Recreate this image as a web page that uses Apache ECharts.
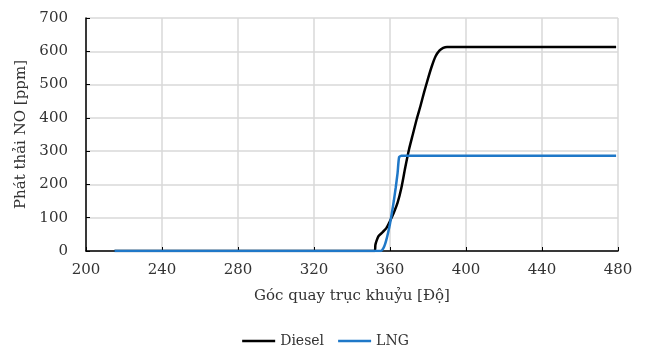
<!DOCTYPE html>
<html><head><meta charset="utf-8">
<script src="https://cdn.jsdelivr.net/npm/echarts@6/dist/echarts.min.js"></script>
<style>html,body{margin:0;padding:0;background:#fff}#c{width:651px;height:350px}</style>
</head><body><div id="c"></div>
<script>
const xTicks = [200, 240, 280, 320, 360, 400, 440, 480];
const yTicks = [0, 100, 200, 300, 400, 500, 600, 700];
const dieselAngle = [215, 352, 352.3, 353, 354, 356, 358, 360, 362, 364, 366, 368, 370, 372, 374, 376, 378, 380, 382, 384, 386, 388, 390, 400, 440, 479];
const dieselNO    = [0,   0,   18,    32,  45,  56,  68,  90,  115, 145, 190, 250, 305, 350, 395, 435, 478, 518, 555, 585, 602, 610, 613, 613, 613, 613];
const lngAngle = [215, 355, 356, 357, 358, 359, 360, 361, 362, 363, 364, 364.8, 366, 400, 479];
const lngNO    = [0,   0,   4,   14,  32,  55,  82,  115, 150, 190, 235, 282,   286, 286, 286];
const names = ['Diesel', 'LNG'];

const font = 'DejaVu Serif';
const txt = '#333333';
const pair = (xs, ys) => xs.map((x, i) => [x, ys[i]]);
const chart = echarts.init(document.getElementById('c'));
chart.setOption({
  animation: false,
  grid: {left: 86, right: 33, top: 18, bottom: 99},
  xAxis: {
    type: 'value', min: xTicks[0], max: xTicks[xTicks.length-1], interval: 40,
    name: 'Góc quay trục khuỷu [Độ]', nameLocation: 'middle', nameGap: 38,
    nameTextStyle: {fontFamily: font, fontSize: 15, color: txt},
    axisLine: {show: true, lineStyle: {color: '#000', width: 1.5}},
    axisTick: {show: true, inside: true, length: 4, lineStyle: {color: '#000'}},
    axisLabel: {fontFamily: font, fontSize: 15, color: txt, margin: 12},
    splitLine: {show: true, lineStyle: {color: '#d9d9d9', width: 1.5}}
  },
  yAxis: {
    type: 'value', min: yTicks[0], max: yTicks[yTicks.length-1], interval: 100,
    name: 'Phát thải NO [ppm]', nameLocation: 'middle', nameGap: 48,
    nameTextStyle: {fontFamily: font, fontSize: 15, color: txt},
    axisLine: {show: true, lineStyle: {color: '#000', width: 1.5}},
    axisTick: {show: true, inside: true, length: 4, lineStyle: {color: '#000'}},
    axisLabel: {fontFamily: font, fontSize: 15, color: txt, margin: 18},
    splitLine: {show: true, lineStyle: {color: '#d9d9d9', width: 1.5}}
  },
  legend: {
    bottom: -3, left: 'center', icon: 'rect', itemWidth: 33, itemHeight: 2.5, itemGap: 14,
    textStyle: {fontFamily: font, fontSize: 14, color: txt},
    data: names
  },
  series: [
    {name: names[0], type: 'line', data: pair(dieselAngle, dieselNO), symbol: 'none', smooth: 0.2,
     lineStyle: {color: '#000', width: 2.5}, itemStyle: {color: '#000'}, z: 3},
    {name: names[1], type: 'line', data: pair(lngAngle, lngNO), symbol: 'none', smooth: 0.2,
     lineStyle: {color: '#1f78c8', width: 2.5}, itemStyle: {color: '#1f78c8'}, z: 4}
  ]
});
</script></body></html>
